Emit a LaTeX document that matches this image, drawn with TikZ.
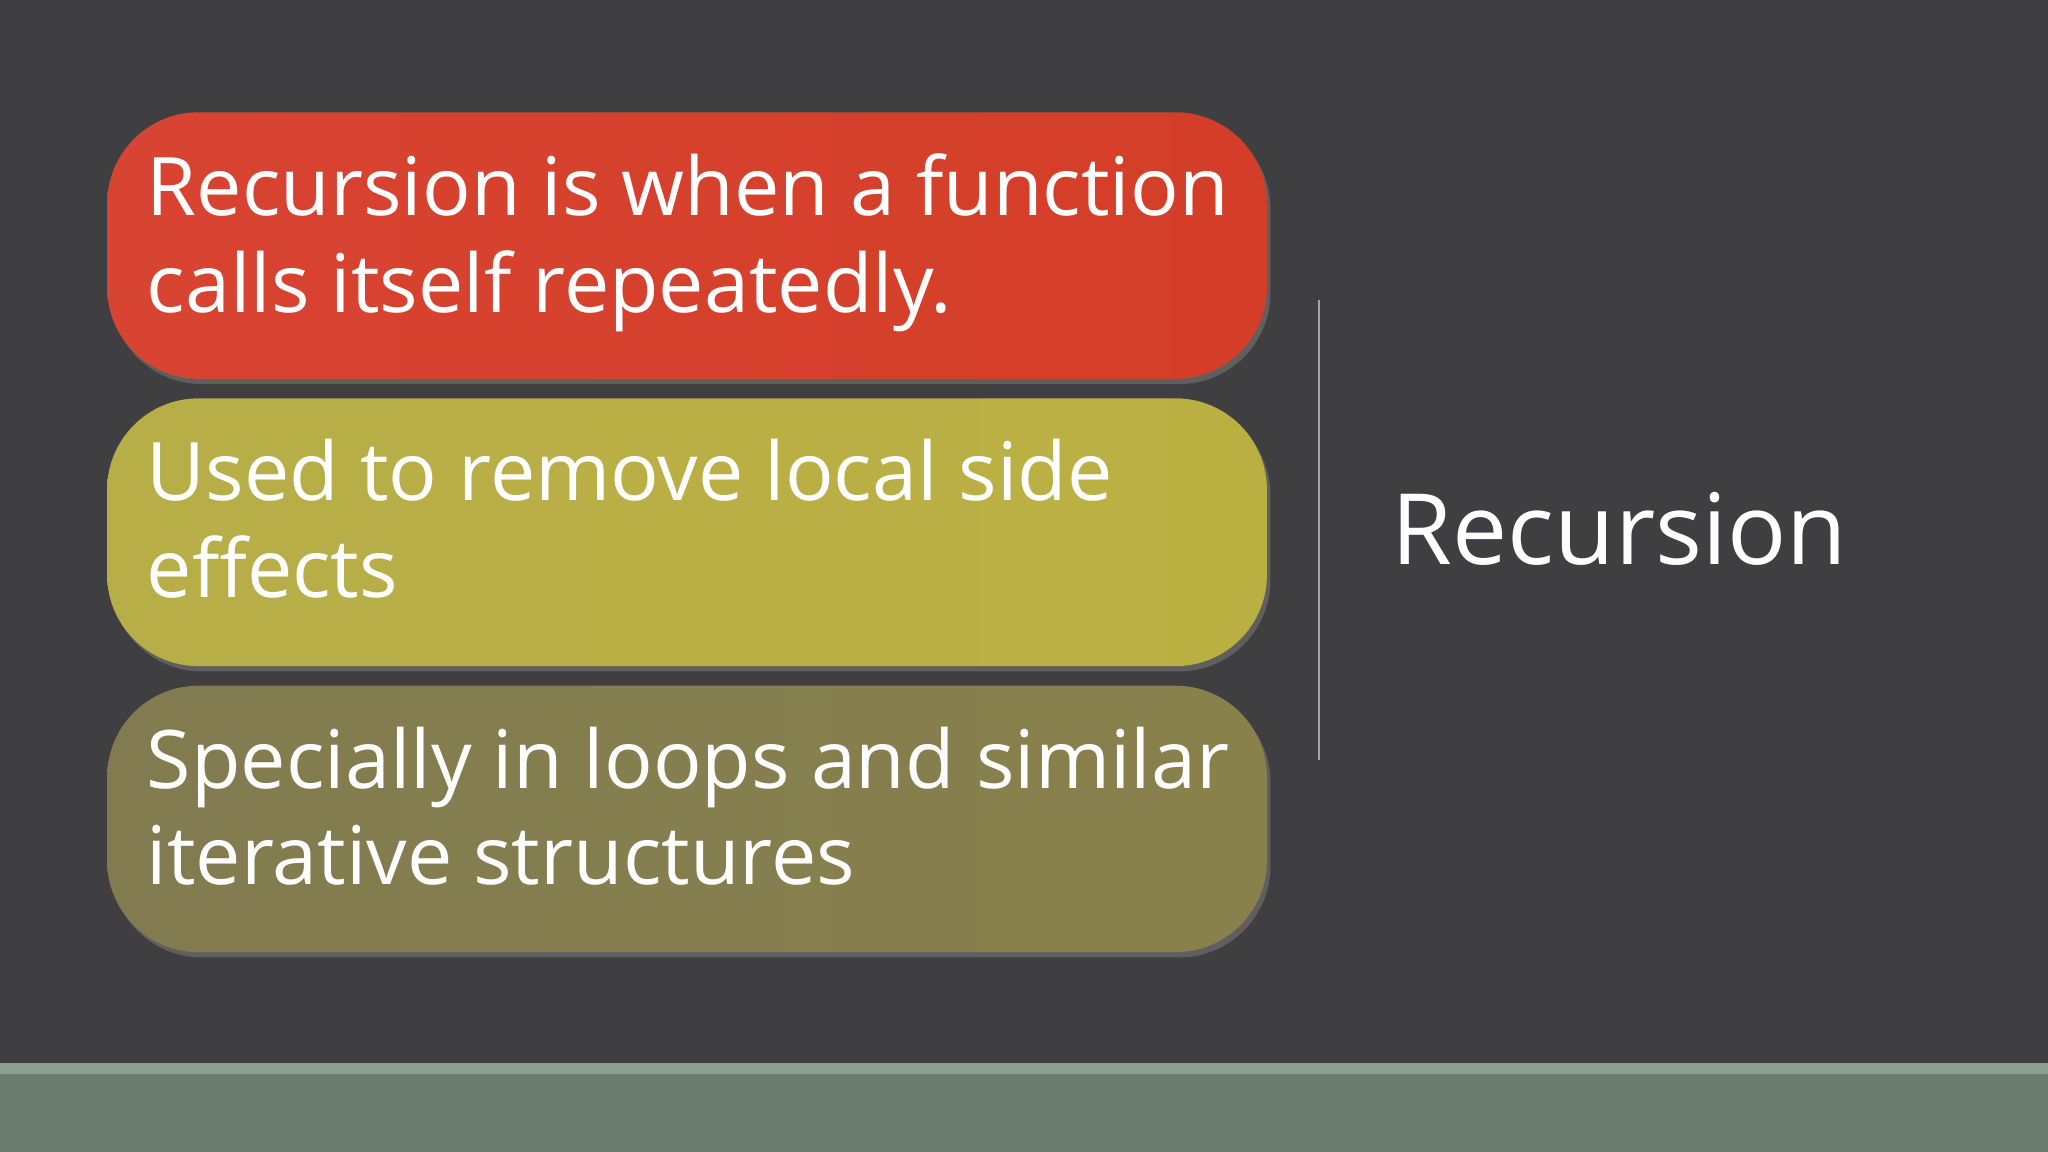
\documentclass[tikz,border=0pt]{standalone}
\usepackage{fontspec}
\setmainfont{Open Sans}
\definecolor{bg}{HTML}{3F3F41}
\definecolor{rA}{HTML}{D84432}
\definecolor{rB}{HTML}{D43E28}
\definecolor{yA}{HTML}{B8AE48}
\definecolor{yB}{HTML}{BAB042}
\definecolor{oA}{HTML}{827B50}
\definecolor{oB}{HTML}{88814C}
\definecolor{barA}{HTML}{8FA090}
\definecolor{barB}{HTML}{6B7B6E}
\tikzset{
 box/.style={rounded corners=26pt, draw=none, drop shadow={opacity=0.5,shadow xshift=1pt,shadow yshift=-1.5pt}},
 btext/.style={anchor=north west, text=white, font=\fontsize{23}{27.5}\selectfont, align=left, inner sep=0pt}
}
\usetikzlibrary{shadows}
\begin{document}
\begin{tikzpicture}[x=0.013061cm,y=-0.013061cm]
\fill[bg] (0,0) rectangle (1568,882);
\fill[barA] (0,814) rectangle (1568,822);
\fill[barB] (0,822) rectangle (1568,882);
\shade[box,left color=rA,right color=rB] (82,86) rectangle (970,290);
\shade[box,left color=yA,right color=yB] (82,305) rectangle (970,510);
\shade[box,left color=oA,right color=oB] (82,525) rectangle (970,729);
\node[btext] (t1) at (112,117) {Recursion is when a function\\calls itself repeatedly.};
\node[btext] (t2) at (112,336) {Used to remove local side\\effects};
\node[btext] (t3) at (112,556) {Specially in loops and similar\\iterative structures};
\draw[gray!70, line width=0.6pt] (1010,230) -- (1010,582);
\node[anchor=west, text=white, font=\fontsize{28}{32}\selectfont, inner sep=0pt] (title) at (1065,405) {Recursion};
\end{tikzpicture}
\end{document}
